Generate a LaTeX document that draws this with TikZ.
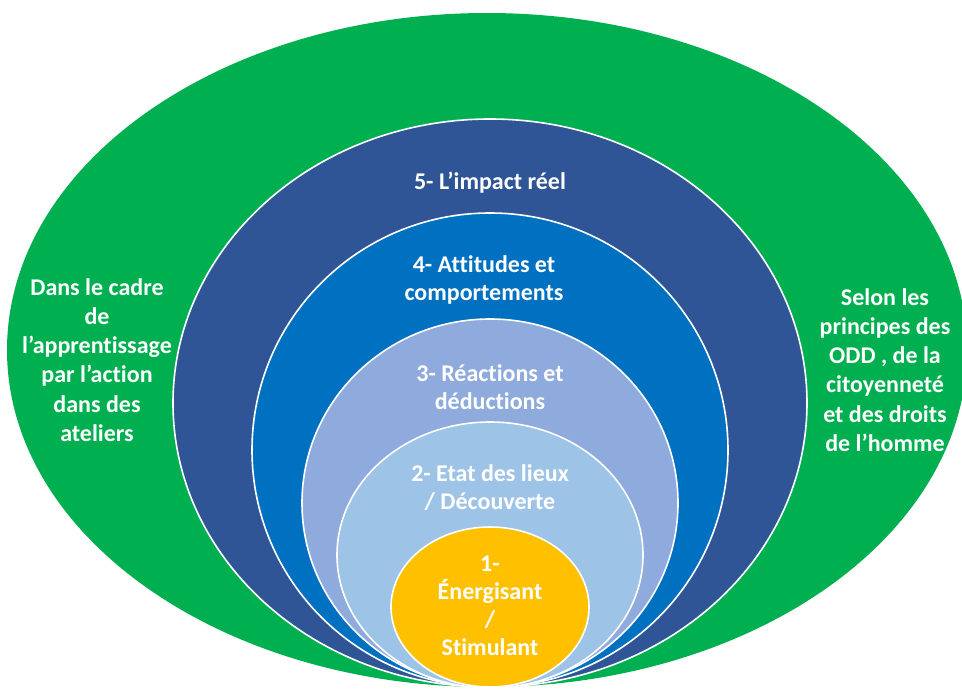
\documentclass[tikz,border=0pt]{standalone}
\usepackage{fontspec}
\setmainfont[Ligatures=NoCommon]{Carlito}
\definecolor{cgreen}{HTML}{00B050}
\definecolor{cdark}{HTML}{2F5597}
\definecolor{cblue}{HTML}{0070C0}
\definecolor{cpurp}{HTML}{8FAADC}
\definecolor{clight}{HTML}{9DC3E6}
\definecolor{cyell}{HTML}{FFC000}
\tikzset{
  ring/.style={draw=white, line width=1.6pt},
  lbl/.style={text=white, align=center, font=\fontsize{24}{28}\selectfont\bfseries, inner sep=0pt},
  sidelbl/.style={text=white, align=center, font=\fontsize{24}{29.3}\selectfont\bfseries, inner sep=0pt}
}
\begin{document}
\begin{tikzpicture}[x=1pt,y=-1pt]
\useasboundingbox (0,0) rectangle (962,691);
\fill[white] (0,0) rectangle (962,691);
% ellipses
\fill[cgreen] (487,350) ellipse [x radius=480pt, y radius=337pt];
\filldraw[ring, fill=cdark] (490,403) ellipse [x radius=317pt, y radius=284pt];
\filldraw[ring, fill=cblue] (490,450) ellipse [x radius=238pt, y radius=237pt];
\filldraw[ring, fill=cpurp] (490,503) ellipse [x radius=188pt, y radius=184pt];
\filldraw[ring, fill=clight] (490,555) ellipse [x radius=153pt, y radius=133pt];
\filldraw[ring, fill=cyell] (490,607) ellipse [x radius=99pt, y radius=80pt];
% labels
\node[sidelbl] (left) at (97,360) {Dans le cadre\\de\\l’apprentissage\\par l’action\\dans des\\ateliers};
\node[sidelbl] (right) at (885,370) {Selon les\\principes des\\ODD , de la\\citoyenneté\\et des droits\\de l’homme};
\node[lbl] (l5) at (490,183) {5- L’impact réel};
\node[lbl] (l4) at (484,280) {4- Attitudes et\\comportements};
\node[lbl] (l3) at (490,387) {3- Réactions et\\déductions};
\node[lbl] (l2) at (490,488) {2- Etat des lieux\\/ Découverte};
\node[lbl] (l1) at (490,606) {1-\\Énergisant\\/\\Stimulant};
\end{tikzpicture}
\end{document}
